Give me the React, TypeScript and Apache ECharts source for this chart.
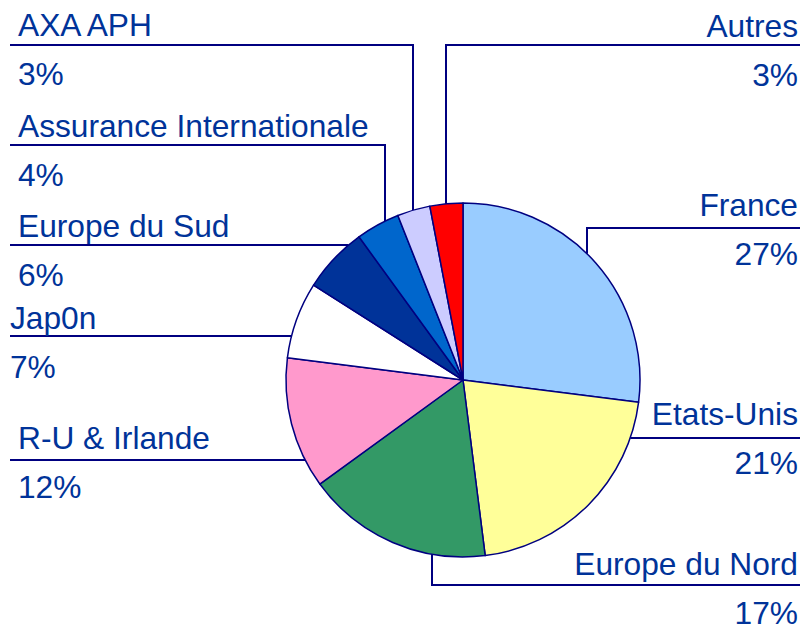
import React, { useEffect, useRef } from "react";
import * as echarts from "echarts";

const categories = [
  "France",
  "Etats-Unis",
  "Europe du Nord",
  "R-U & Irlande",
  "Jap0n",
  "Europe du Sud",
  "Assurance Internationale",
  "AXA APH",
  "Autres",
];
const shares = [27, 21, 17, 12, 7, 6, 4, 3, 3];
const sliceColors = [
  "#99CCFF",
  "#FFFF99",
  "#339966",
  "#FF99CC",
  "#FFFFFF",
  "#003399",
  "#0066CC",
  "#CCCCFF",
  "#FF0000",
];

// Label layout (positions only): side, text x, name baseline, underline y, leader type and anchor
type Lay = { side: "l" | "r"; tx: number; base: number; uy: number; kind: "v" | "h" | "vb"; ax?: number };
const labelLayouts: Lay[] = [
  { side: "r", tx: 798, base: 215, uy: 228, kind: "v", ax: 587 },
  { side: "r", tx: 798, base: 424, uy: 438, kind: "h" },
  { side: "r", tx: 798, base: 574, uy: 585, kind: "vb", ax: 432 },
  { side: "l", tx: 18, base: 448, uy: 460, kind: "h" },
  { side: "l", tx: 10, base: 328, uy: 336, kind: "h" },
  { side: "l", tx: 18, base: 236, uy: 245, kind: "h" },
  { side: "l", tx: 18, base: 136, uy: 145, kind: "v", ax: 385 },
  { side: "l", tx: 18, base: 35, uy: 45, kind: "v", ax: 413 },
  { side: "r", tx: 798, base: 36, uy: 45, kind: "v", ax: 446 },
];

const CX = 463;
const CY = 380;
const R = 177;
const LEFT_END = 10;
const RIGHT_END = 800;
const LINE_H = 49;
const FS = 31.7;

export default function App() {
  const ref = useRef<HTMLDivElement>(null);
  useEffect(() => {
    if (!ref.current) return;
    const chart = echarts.init(ref.current, null, { renderer: "svg" });
    const textColor = "#003399";
    const ff = "Liberation Sans, Arial, sans-serif";
    chart.setOption({
      animation: false,
      backgroundColor: "#FFFFFF",
      series: [
        {
          type: "pie",
          center: [CX, CY],
          radius: R,
          startAngle: 90,
          clockwise: true,
          avoidLabelOverlap: false,
          silent: true,
          emphasis: { disabled: true },
          itemStyle: { borderColor: "#000080", borderWidth: 1.5 },
          data: categories.map((c, i) => ({
            name: c,
            value: shares[i],
            itemStyle: { color: sliceColors[i] },
          })),
          label: {
            show: true,
            formatter: (p: any) => `{n|${p.name}}\n{p|${p.value}%}`,
            color: textColor,
            fontFamily: ff,
            fontSize: FS,
            lineHeight: LINE_H,
            rich: {
              n: { color: textColor, fontSize: FS, lineHeight: LINE_H, fontFamily: ff },
              p: { color: textColor, fontSize: FS, lineHeight: LINE_H, fontFamily: ff },
            },
          },
          labelLine: {
            show: true,
            lineStyle: { color: "#000080", width: 2 },
          },
          labelLayout: (params: any) => {
            const L = labelLayouts[params.dataIndex];
            const endX = L.side === "l" ? LEFT_END : RIGHT_END;
            let pts: number[][];
            if (L.kind === "h") {
              const dy = L.uy - CY;
              const dx = Math.sqrt(Math.max(R * R - dy * dy, 0));
              const ex = L.side === "l" ? CX - dx : CX + dx;
              pts = [[ex, L.uy], [ex, L.uy], [endX, L.uy]];
            } else {
              const ax = L.ax as number;
              const dx = ax - CX;
              const dy = Math.sqrt(Math.max(R * R - dx * dx, 0));
              const ey = L.kind === "vb" ? CY + dy : CY - dy;
              pts = [[ax, ey], [ax, L.uy], [endX, L.uy]];
            }
            return {
              x: L.tx,
              y: L.base - 35,
              align: L.side === "l" ? "left" : "right",
              verticalAlign: "top",
              labelLinePoints: pts,
            };
          },
        },
      ],
    });
    return () => chart.dispose();
  }, []);
  return (
    <div
      ref={ref}
      style={{ position: "fixed", left: 0, top: 0, width: 804, height: 624 }}
    />
  );
}
